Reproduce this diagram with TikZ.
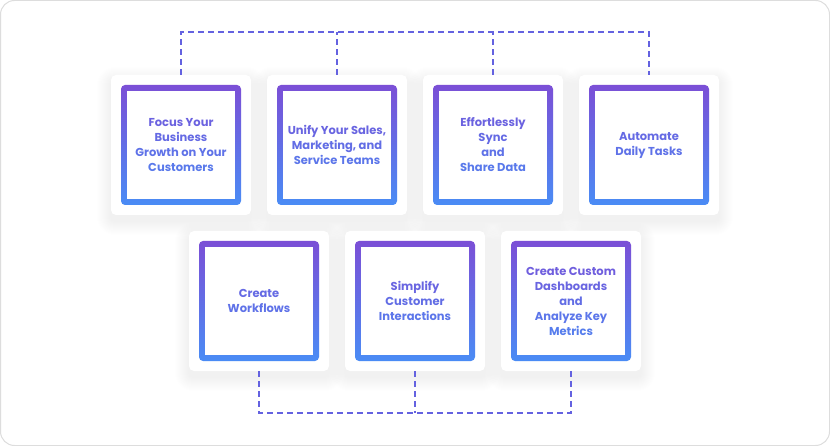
\documentclass[tikz,border=0pt]{standalone}
\usepackage{fontspec}
\setmainfont{Poppins}
\definecolor{purp}{HTML}{7B4FD6}
\definecolor{blu}{HTML}{4A8CF5}
\definecolor{dashc}{HTML}{6462E0}
\definecolor{edge}{HTML}{DDDDDD}
\tikzset{
 card/.style={rectangle, fill=white, rounded corners=5pt, minimum width=140pt, minimum height=140pt, inner sep=0pt},
 frame/.style={rectangle, rounded corners=4pt, minimum width=120pt, minimum height=120pt, inner sep=0pt, top color=purp, bottom color=blu},
 innerbox/.style={rectangle, fill=white, minimum width=108pt, minimum height=108pt, inner sep=0pt},
 lbl/.style={align=center, font=\fontsize{11.5}{15}\selectfont\bfseries, inner sep=0pt},
 bus/.style={draw=dashc, line width=1.4pt, dash pattern=on 6pt off 4pt},
 shade/.style={fill=black, fill opacity=0.0045, draw=none}
}
\newcommand\lc[2]{\textcolor{blu!#1!purp}{#2}}
\newcommand\mycard[4]{%
  \foreach \k in {1,...,14}{%
    \fill[shade, rounded corners=\k pt+4pt] (#2-70-\k,#3-70-\k+6) rectangle (#2+70+\k,#3+70+\k+6);
  }
  \node[card] (#1) at (#2,#3) {};
  \node[frame] (#1f) at (#2,#3) {};
  \node[innerbox] (#1i) at (#2,#3) {};
  \node[lbl] (#1t) at (#2,#3) {#4};
}
\begin{document}
\begin{tikzpicture}[x=1pt,y=-1pt]
\useasboundingbox (0,0) rectangle (830,446);
\draw[draw=edge, fill=white, line width=1pt, rounded corners=14pt] (0.5,0.5) rectangle (829.5,445.5);

\coordinate (topbus) at (415,32);
\coordinate (botbus) at (415,413);

\mycard{c1}{181}{145}{\lc{32}{Focus Your}\\\lc{44}{Business}\\\lc{57}{Growth on Your}\\\lc{69}{Customers}}
\mycard{c2}{337}{145}{\lc{37}{Unify Your Sales,}\\\lc{50}{Marketing, and}\\\lc{63}{Service Teams}}
\mycard{c3}{493}{145}{\lc{32}{Effortlessly}\\\lc{44}{Sync}\\\lc{57}{and}\\\lc{69}{Share Data}}
\mycard{c4}{649}{145}{\lc{44}{Automate}\\\lc{57}{Daily Tasks}}
\mycard{c5}{259}{301}{\lc{44}{Create}\\\lc{57}{Workflows}}
\mycard{c6}{415}{301}{\lc{37}{Simplify}\\\lc{50}{Customer}\\\lc{63}{Interactions}}
\mycard{c7}{571}{301}{\lc{25}{Create Custom}\\\lc{37}{Dashboards}\\\lc{50}{and}\\\lc{63}{Analyze Key}\\\lc{75}{Metrics}}

\draw[bus] (c1.north) |- (topbus) -| (c4.north);
\draw[bus] (c2.north) -- (c2.north |- topbus);
\draw[bus] (c3.north) -- (c3.north |- topbus);

\draw[bus] (c5.south) |- (botbus) -| (c7.south);
\draw[bus] (c6.south) -- (c6.south |- botbus);
\end{tikzpicture}
\end{document}
